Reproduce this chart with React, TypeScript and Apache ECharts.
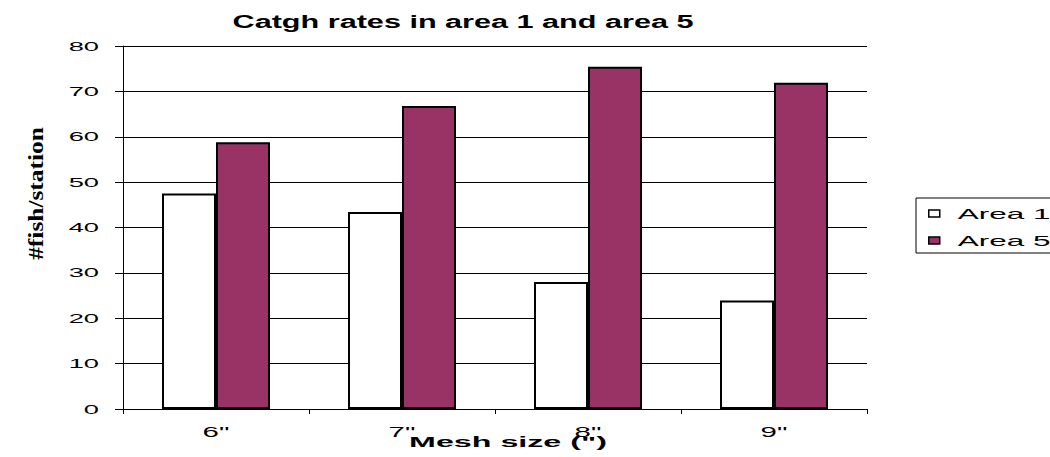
import { useEffect, useRef } from "react";
import * as echarts from "echarts";

// Chart data
const TITLE = "Catgh rates in area 1 and area 5";
const X_NAME = 'Mesh size (")';
const Y_NAME = "#fish/station";
const MESH_SIZES = ['6"', '7"', '8"', '9"'];
const SERIES_NAMES = ["Area 1", "Area 5"];
const AREA_1 = [47.5, 43.4, 28.0, 23.9];
const AREA_5 = [58.8, 66.8, 75.4, 71.9];
const Y_MIN = 0;
const Y_MAX = 80;
const Y_STEP = 10;

const SANS = "'Liberation Sans', Arial, sans-serif";
const SERIF = "'Liberation Serif', 'Times New Roman', serif";
const PURPLE = "#993366";

// The lettering is set wide; each text is stretched along its reading direction.
const STRETCH: Record<string, number> = {
  [TITLE]: 1.7,
  [Y_NAME]: 1.27,
  [X_NAME]: 2.3,
};
const DEFAULT_STRETCH = 2.1;

function widenTexts(root: HTMLElement) {
  root.querySelectorAll("text").forEach((node) => {
    const el = node as SVGTextElement;
    el.removeAttribute("textLength");
    el.removeAttribute("lengthAdjust");
    const txt = el.textContent || "";
    if (!txt.trim()) return;
    const natural = el.getComputedTextLength();
    if (!natural) return;
    const k = STRETCH[txt] ?? DEFAULT_STRETCH;
    el.setAttribute("textLength", String(natural * k));
    el.setAttribute("lengthAdjust", "spacingAndGlyphs");
  });
}

export default function App() {
  const ref = useRef<HTMLDivElement>(null);

  useEffect(() => {
    const el = ref.current;
    if (!el) return;
    const chart = echarts.init(el, null, { renderer: "svg" });

    const option: echarts.EChartsOption = {
      animation: false,
      backgroundColor: "#fff",
      title: {
        text: TITLE,
        left: 463,
        top: 13,
        textAlign: "center",
        padding: 0,
        textStyle: { fontFamily: SANS, fontWeight: "bold", fontSize: 18, color: "#000" },
      },
      legend: {
        orient: "vertical",
        left: 916,
        top: 198,
        data: SERIES_NAMES,
        icon: "rect",
        itemWidth: 11,
        itemHeight: 7,
        itemGap: 12,
        padding: [8, 70, 5, 12],
        borderColor: "#000",
        borderWidth: 1,
        itemStyle: { borderColor: "#000", borderWidth: 1.5 },
        textStyle: { fontFamily: SANS, fontSize: 15, color: "#000", padding: [0, 0, 0, 13] },
      },
      grid: { left: 123, right: 183, top: 46, bottom: 48 },
      xAxis: {
        type: "category",
        data: MESH_SIZES,
        axisLine: { lineStyle: { color: "#000", width: 1 } },
        axisTick: { show: true, length: 5, lineStyle: { color: "#000" } },
        axisLabel: { fontFamily: SANS, fontSize: 14, color: "#000", margin: 16 },
        splitLine: { show: false },
      },
      yAxis: {
        type: "value",
        min: Y_MIN,
        max: Y_MAX,
        interval: Y_STEP,
        axisLine: { show: true, lineStyle: { color: "#000", width: 1 } },
        axisTick: { show: true, length: 8, lineStyle: { color: "#000" } },
        axisLabel: { fontFamily: SANS, fontSize: 13, color: "#000", margin: 24 },
        splitLine: { show: true, lineStyle: { color: "#000", width: 1 } },
      },
      series: [
        {
          name: SERIES_NAMES[0],
          type: "bar",
          data: AREA_1,
          barWidth: 54,
          barGap: "0%",
          itemStyle: { color: "#ffffff", borderColor: "#000", borderWidth: 2 },
        },
        {
          name: SERIES_NAMES[1],
          type: "bar",
          data: AREA_5,
          barWidth: 54,
          barGap: "0%",
          itemStyle: { color: PURPLE, borderColor: "#000", borderWidth: 2 },
        },
      ],
      graphic: [
        {
          type: "text",
          x: 508,
          y: 442,
          style: {
            text: X_NAME,
            fontFamily: SANS,
            fontWeight: "bold",
            fontSize: 14,
            fill: "#000",
            align: "center",
            verticalAlign: "middle",
          },
        },
        {
          type: "text",
          x: 36,
          y: 193.5,
          rotation: Math.PI / 2,
          style: {
            text: Y_NAME,
            fontFamily: SERIF,
            fontWeight: "bold",
            fontSize: 20,
            fill: "#000",
            align: "center",
            verticalAlign: "middle",
          },
        },
      ],
    };

    chart.setOption(option);
    const apply = () => widenTexts(el);
    apply();
    chart.on("finished", apply);

    return () => {
      chart.off("finished", apply);
      chart.dispose();
    };
  }, []);

  return (
    <div
      ref={ref}
      style={{ position: "fixed", left: 0, top: 0, width: 1050, height: 457, background: "#fff" }}
    />
  );
}
